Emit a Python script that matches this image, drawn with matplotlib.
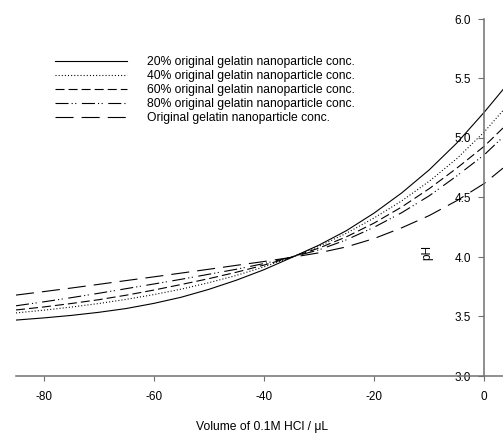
import numpy as np
import matplotlib
matplotlib.use("Agg")
import matplotlib.pyplot as plt

plt.rcParams['font.family'] = ['Liberation Sans', 'DejaVu Sans']
plt.rcParams['lines.scale_dashes'] = False
plt.rcParams['axes.unicode_minus'] = False

# volume of HCl (uL) and pH readings for each dilution
vol = [-85, -80, -75, -70, -65, -60, -55, -50, -45, -40, -35,
       -30, -25, -20, -15, -10, -5, 0, 3.4]
ph_20 = [3.470, 3.488, 3.509, 3.535, 3.567, 3.610, 3.662, 3.728, 3.805, 3.893, 3.995,
         4.100, 4.222, 4.369, 4.538, 4.732, 4.957, 5.217, 5.407]
ph_40 = [3.530, 3.553, 3.579, 3.609, 3.644, 3.684, 3.730, 3.784, 3.845, 3.917, 4.000,
         4.090, 4.200, 4.328, 4.471, 4.636, 4.826, 5.051, 5.231]
ph_60 = [3.555, 3.580, 3.609, 3.641, 3.679, 3.722, 3.769, 3.818, 3.872, 3.932, 3.998,
         4.075, 4.170, 4.285, 4.420, 4.574, 4.746, 4.931, 5.084]
ph_80 = [3.590, 3.623, 3.658, 3.695, 3.734, 3.773, 3.813, 3.855, 3.897, 3.945, 3.998,
         4.060, 4.145, 4.250, 4.372, 4.514, 4.681, 4.859, 5.008]
ph_orig = [3.680, 3.709, 3.739, 3.770, 3.802, 3.833, 3.865, 3.897, 3.930, 3.962, 3.997,
           4.035, 4.085, 4.155, 4.245, 4.348, 4.473, 4.618, 4.747]

labels = ['20% original gelatin nanoparticle conc.',
          '40% original gelatin nanoparticle conc.',
          '60% original gelatin nanoparticle conc.',
          '80% original gelatin nanoparticle conc.',
          'Original gelatin nanoparticle conc.']

styles = ['-',
          (0, (0.75, 1.5)),
          (0, (6.5, 2.9)),
          (0, (9.4, 2.2, 0.8, 1.8, 0.8, 4.0)),
          (0, (13, 5.8))]

W, H = 503, 436
fig = plt.figure(figsize=(W / 100, H / 100), dpi=100, facecolor='w')
ax = fig.add_axes([16 / W, 1 - 376 / H, 1 - 16 / W, (376 - 19) / H])

for ys, ls, lab in zip([ph_20, ph_40, ph_60, ph_80, ph_orig], styles, labels):
    ax.plot(vol, ys, color='k', lw=0.8, linestyle=ls, label=lab)

ax.set_xlim(-85, 3.4)
ax.set_ylim(3.0, 6.0)
ax.set_xticks([-80, -60, -40, -20, 0])
ax.set_yticks([3.0, 3.5, 4.0, 4.5, 5.0, 5.5, 6.0])
ax.set_yticklabels(['3.0', '3.5', '4.0', '4.5', '5.0', '5.5', '6.0'])

for s in ['top', 'right']:
    ax.spines[s].set_visible(False)
ax.spines['left'].set_position(('data', 0))
ax.spines['left'].set_bounds(3.0, 6.0)
for s in ['left', 'bottom']:
    ax.spines[s].set_color('#707070')
    ax.spines[s].set_linewidth(1.1)

ax.tick_params(axis='x', direction='out', length=3.5, width=0.8, color='#707070',
               labelsize=8.5, pad=7)
ax.tick_params(axis='y', direction='out', length=4.5, width=0.8, color='#707070',
               labelsize=8.5, pad=5)

fig.text(427 / W, 1 - 252 / H, 'pH', rotation=90, fontsize=8.5, ha='center', va='center')
fig.text(262 / W, 1 - 427 / H, 'Volume of 0.1M HCl / μL', fontsize=8.7,
         ha='center', va='center')

ax.legend(loc='upper left', bbox_to_anchor=(55 / W, 1 - 56 / H),
          bbox_transform=fig.transFigure, frameon=False, fontsize=8.7,
          handlelength=6.0, handletextpad=1.65, labelspacing=0.16,
          borderpad=0, borderaxespad=0)

fig.savefig('out.png', dpi=100, facecolor='w')
